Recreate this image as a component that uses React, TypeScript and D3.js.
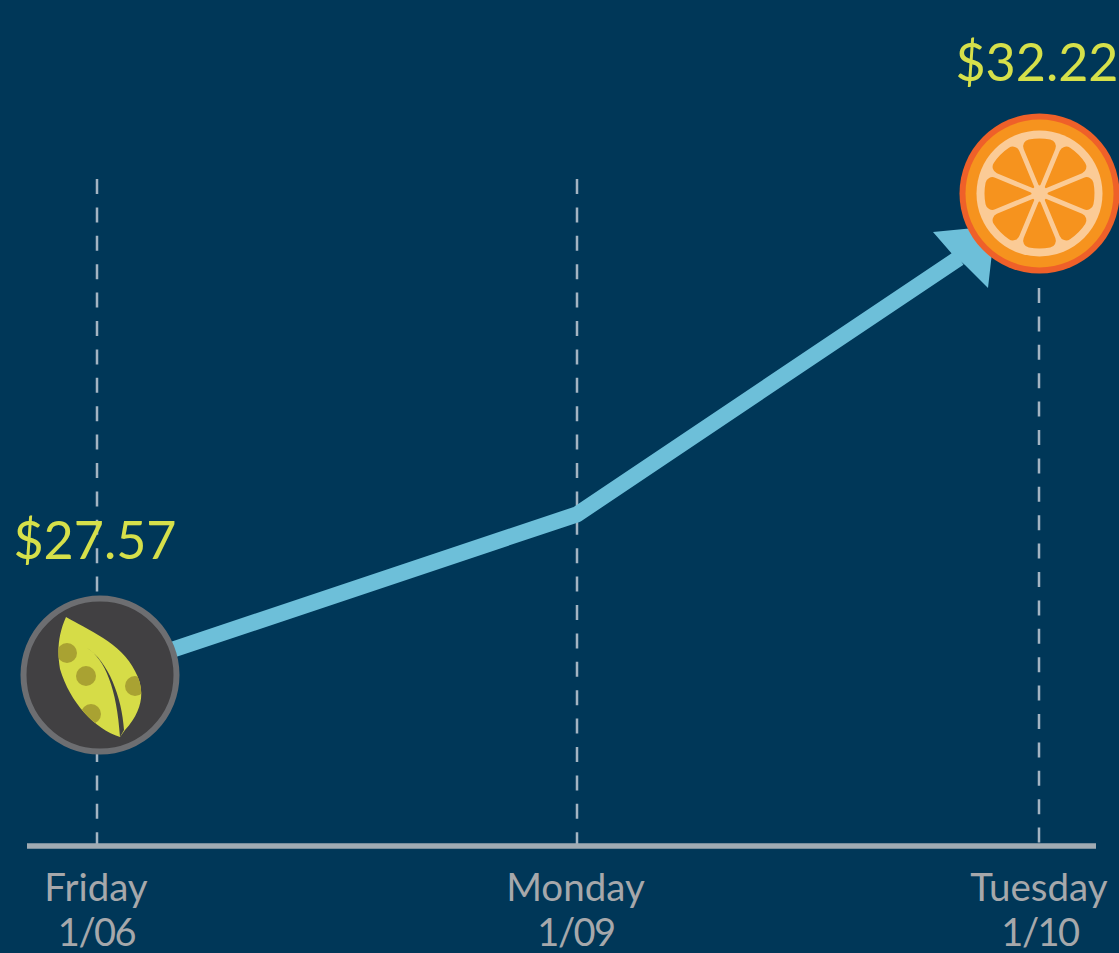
import React from "react";
import * as d3 from "d3";

const days = ["Friday", "Monday", "Tuesday"];
const dates = ["1/06", "1/09", "1/10"];
const prices = [27.57, 29.12, 32.22];
const priceLabels = ["$27.57", null, "$32.22"];

const W = 1119, H = 953;
const x = d3.scaleLinear().domain([0, 1, 2]).range([97, 577, 1039]);
const y = d3.scaleLinear().domain([27.57, 32.22]).range([675, 193]);
const BG = "#003758";

const linePath = d3.line<[number, number]>()
  .x(d => d[0]).y(d => d[1])([
    [x(0), y(prices[0])],
    [x(1), y(prices[1])],
    [x(2) - 80, y(prices[2]) + 65],
  ]) as string;

const segArc = d3.arc<d3.PieArcDatum<number>>().innerRadius(8).outerRadius(55).cornerRadius(7).padAngle(0.085);
const segs = d3.pie<number>().sort(null).startAngle(-Math.PI / 8).endAngle(2 * Math.PI - Math.PI / 8)(d3.range(8).map(() => 1));

function Leaf({ cx, cy }: { cx: number; cy: number }) {
  return (
    <g transform={`translate(${cx},${cy})`}>
      <circle r={76.5} fill="#414042" stroke="#6d6e71" strokeWidth={6} />
      <clipPath id="leafClip">
        <path d="M-34,-58 C-14,-46 22,-32 35,-4 C45,14 44,34 25,55 L20,62 C-5,54 -30,28 -40,-6 C-43,-24 -42,-40 -34,-58 Z" />
      </clipPath>
      <g clipPath="url(#leafClip)">
        <rect x={-60} y={-70} width={120} height={140} fill="#d6dc47" />
        <circle cx={-33} cy={-22} r={10} fill="#a9a232" />
        <circle cx={-14} cy={1} r={10} fill="#a9a232" />
        <circle cx={-9} cy={39} r={10} fill="#a9a232" />
        <circle cx={35} cy={11} r={10} fill="#a9a232" />
      </g>
      <path d="M-13,-27 C5,-16 17,14 20,62 L24,55 C22,22 8,-14 -13,-27 Z" fill="#414042" />
    </g>
  );
}

function Orange({ cx, cy }: { cx: number; cy: number }) {
  return (
    <g transform={`translate(${cx},${cy})`}>
      <circle r={80} fill="#ef6029" />
      <circle r={74} fill="#f6931e" />
      <circle r={63} fill="#fbcb96" />
      {segs.map((s, i) => <path key={i} d={segArc(s) as string} fill="#f6931e" />)}
    </g>
  );
}

export default function App() {
  const sans = "Lato, 'Open Sans', sans-serif";
  return (
    <svg width={W} height={H} viewBox={`0 0 ${W} ${H}`} style={{ position: "absolute", left: 0, top: 0, display: "block" }}>
      <rect width={W} height={H} fill={BG} />
      {days.map((d, i) => (
        <line key={d} x1={x(i)} x2={x(i)} y1={i === 2 ? 288 : 179} y2={845}
          stroke="#a3b4c2" strokeWidth={2.5} strokeDasharray="15 13.4" />
      ))}
      <line x1={27} x2={1096} y1={846} y2={846} stroke="#a0abb3" strokeWidth={5.5} />
      <path d={linePath} fill="none" stroke="#6dbfd9" strokeWidth={16} strokeLinejoin="round" />
      <path d="M933,232 L995,226 L988,288 L965,265 L953,255 Z" fill="#6dbfd9" />
      <Leaf cx={x(0) + 3} cy={y(prices[0])} />
      <Orange cx={x(2) + 0.5} cy={y(prices[2]) + 0.5} />
      {prices.map((p, i) => priceLabels[i] && (
        <text key={i} x={i === 0 ? 95 : 1037} y={i === 0 ? 559 : 81} textAnchor="middle"
          fontFamily={sans} fontSize={52} fill="#d6e04a">{priceLabels[i]}</text>
      ))}
      {days.map((d, i) => (
        <g key={d} fontFamily={sans} fill="#a6a8ab" textAnchor="middle">
          <text x={i === 0 ? 96 : i === 1 ? 575.5 : 1039} y={901} fontSize={38.5}>{d}</text>
          <text x={i === 0 ? 96.5 : i === 1 ? 576 : 1040} y={946} fontSize={38} letterSpacing={-1.5}>{dates[i]}</text>
        </g>
      ))}
    </svg>
  );
}
